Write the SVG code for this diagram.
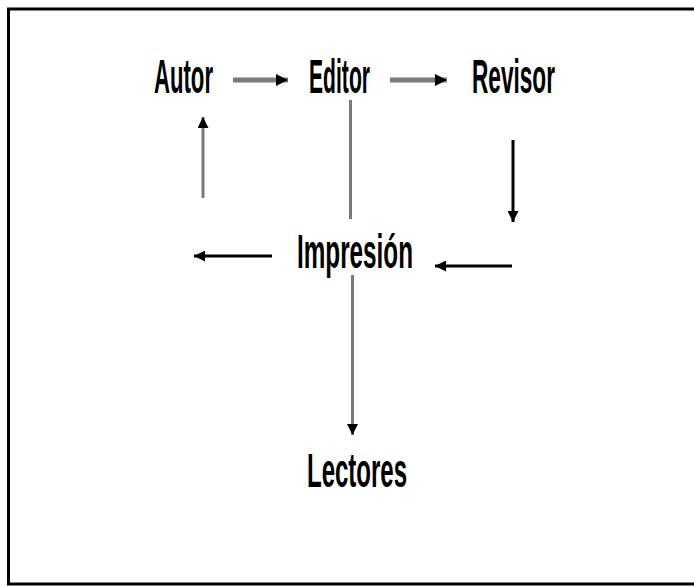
<svg xmlns="http://www.w3.org/2000/svg" width="694" height="586" viewBox="0 0 694 586">
<style>
.lbl{font-family:"Liberation Sans",Arial,sans-serif;font-size:48px;font-weight:bold;fill:#000;}
.g{stroke:#7a7a7a;fill:none;}
.k{stroke:#000;fill:none;}
</style>
<defs>
<marker id="ah" viewBox="0 0 10 10" refX="10" refY="5" markerUnits="userSpaceOnUse" markerWidth="12" markerHeight="15" orient="auto">
<path d="M0,0 L10,5 L0,10 z" fill="#000"/>
</marker>
<marker id="ahs" viewBox="0 0 10 10" refX="10" refY="5" markerUnits="userSpaceOnUse" markerWidth="16" markerHeight="11" orient="auto">
<path d="M0,0 L10,5 L0,10 z" fill="#000"/>
</marker>
</defs>
<rect x="0" y="0" width="694" height="586" fill="#fff"/>
<rect x="8.5" y="9" width="700" height="575" fill="none" stroke="#000" stroke-width="3"/>
<g id="connectors">
<line class="g" x1="233" y1="80" x2="288" y2="80" stroke-width="5" marker-end="url(#ah)"/>
<line class="g" x1="390" y1="80" x2="447" y2="80" stroke-width="5" marker-end="url(#ah)"/>
<line class="g" x1="350.5" y1="100" x2="350.5" y2="219" stroke-width="3"/>
<line class="g" x1="203" y1="198" x2="203" y2="117" stroke-width="3" marker-end="url(#ahs)"/>
<line class="k" x1="513" y1="140" x2="513" y2="222" stroke-width="3" marker-end="url(#ahs)"/>
<line class="k" x1="512" y1="266" x2="435" y2="266" stroke-width="3" marker-end="url(#ahs)"/>
<line class="k" x1="272" y1="256" x2="194" y2="256" stroke-width="3" marker-end="url(#ahs)"/>
<line class="g" x1="352.5" y1="275" x2="352.5" y2="435" stroke-width="3" marker-end="url(#ahs)"/>
</g>
<g id="autor"><text class="lbl" x="154" y="93" textLength="59" lengthAdjust="spacingAndGlyphs">Autor</text></g>
<g id="editor"><text class="lbl" x="309" y="93" textLength="61" lengthAdjust="spacingAndGlyphs">Editor</text></g>
<g id="revisor"><text class="lbl" x="472" y="93" textLength="83" lengthAdjust="spacingAndGlyphs">Revisor</text></g>
<g id="impresion"><text class="lbl" x="297" y="268" textLength="116" lengthAdjust="spacingAndGlyphs">Impresión</text></g>
<g id="lectores"><text class="lbl" x="307" y="487" textLength="100" lengthAdjust="spacingAndGlyphs">Lectores</text></g>
</svg>
